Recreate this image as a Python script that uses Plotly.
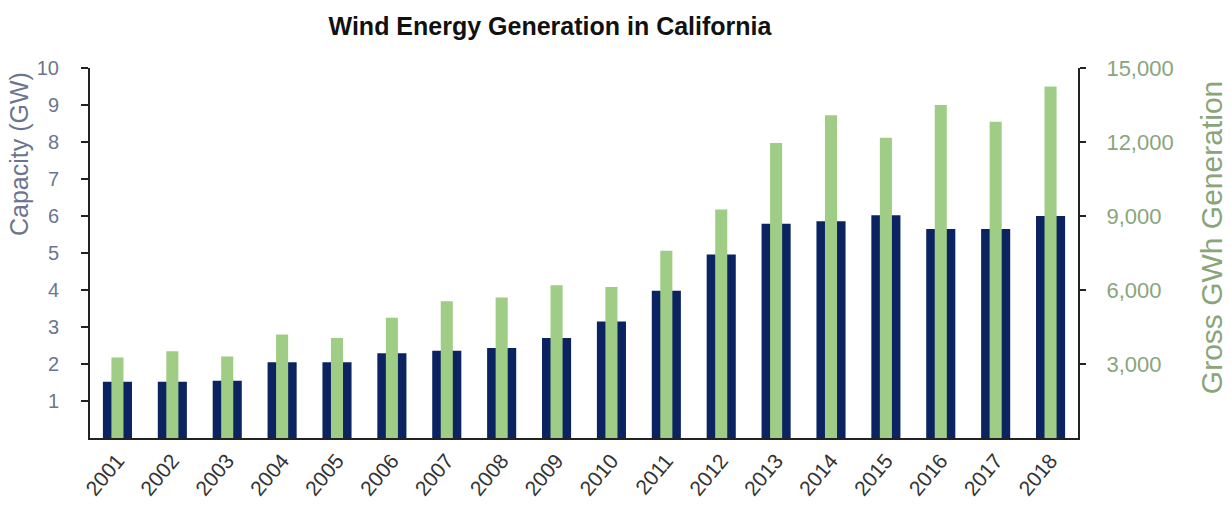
import plotly.graph_objects as go

years = [str(y) for y in range(2001, 2019)]
capacity_gw = [1.52, 1.52, 1.55, 2.05, 2.05, 2.29, 2.36, 2.43, 2.70, 3.15,
               3.98, 4.96, 5.79, 5.86, 6.02, 5.65, 5.65, 6.00]
generation_gwh = [3260, 3520, 3300, 4200, 4050, 4870, 5540, 5700, 6190, 6120,
                  7590, 9260, 11960, 13080, 12170, 13500, 12820, 14250]

NAVY = "#0b2360"
GREEN = "#9fcd85"
LEFT_TXT = "#6b7590"
RIGHT_TXT = "#8aa57a"
FONT = "Liberation Sans Narrow, Arial Narrow, Liberation Sans, Arial, sans-serif"

fig = go.Figure()
fig.add_trace(go.Bar(x=years, y=capacity_gw, width=0.53, marker_color=NAVY,
                     marker_line_width=0, name="Capacity (GW)", yaxis="y"))
fig.add_trace(go.Bar(x=years, y=generation_gwh, width=0.22, marker_color=GREEN,
                     marker_line_width=0, name="Gross GWh Generation", yaxis="y2"))

fig.update_layout(
    width=1231, height=512,
    margin=dict(l=90, r=153, t=68, b=70),
    paper_bgcolor="white", plot_bgcolor="white",
    barmode="overlay", showlegend=False,
    font=dict(family=FONT, color="#333333"),
    title=dict(text="<b>Wind Energy Generation in California</b>",
               x=550 / 1231, xref="container", xanchor="center",
               y=1 - 26 / 512, yref="container", yanchor="middle",
               font=dict(size=25, color="#111111", family=FONT)),
    xaxis=dict(type="category", range=[-0.5, 17.5], showgrid=False,
               showline=True, linecolor="#222222", linewidth=2,
               ticks="", tickangle=-50,
               tickfont=dict(size=21, color="#333333", family=FONT)),
    yaxis=dict(range=[0, 10], tickvals=list(range(1, 11)), showgrid=False,
               zeroline=False, showline=True, linecolor="#222222", linewidth=2,
               ticks="outside", ticklen=7, tickwidth=2, tickcolor="#222222",
               ticklabelstandoff=18,
               tickfont=dict(size=20, color=LEFT_TXT, family=FONT)),
    yaxis2=dict(range=[0, 15000], tickvals=[3000, 6000, 9000, 12000, 15000],
                tickformat=",d", overlaying="y", side="right", showgrid=False,
                zeroline=False, showline=True, linecolor="#222222", linewidth=2,
                ticks="outside", ticklen=6, tickwidth=2, tickcolor="#222222",
                ticklabelstandoff=16,
                tickfont=dict(size=22, color=RIGHT_TXT, family=FONT)),
    annotations=[
        dict(text="Capacity (GW)", xref="paper", yref="paper",
             x=-71 / 988, y=(442 - 155) / 374, xanchor="center", yanchor="middle",
             textangle=-90, showarrow=False,
             font=dict(size=25, color=LEFT_TXT, family=FONT)),
        dict(text="Gross GWh Generation", xref="paper", yref="paper",
             x=(1211 - 90) / 988, y=(442 - 240) / 374, xanchor="center", yanchor="middle",
             textangle=-90, showarrow=False,
             font=dict(size=30, color=RIGHT_TXT, family=FONT)),
    ],
)

fig.write_html("out.html")
